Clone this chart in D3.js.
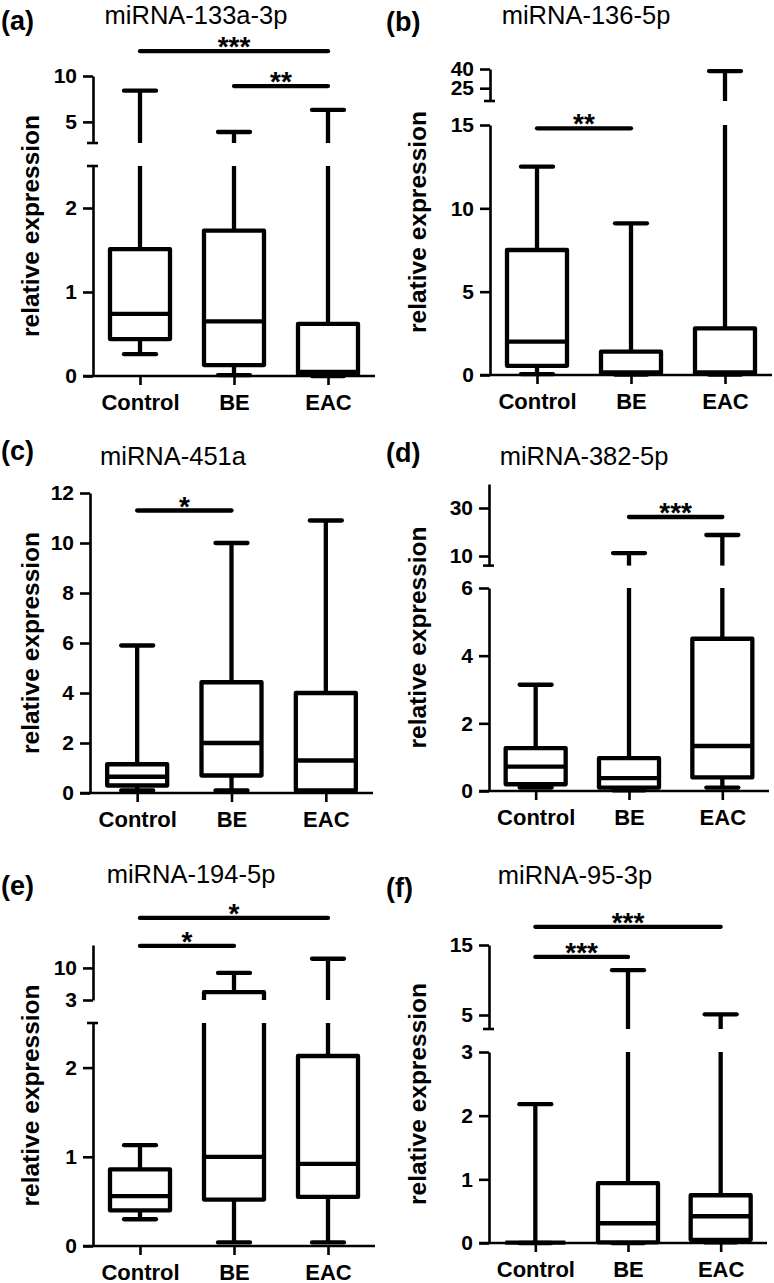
<!DOCTYPE html>
<html><head><meta charset="utf-8">
<script src="https://cdn.jsdelivr.net/npm/d3@7"></script>
<style>
html,body{margin:0;padding:0;background:#fff;}
svg{display:block;}
text{font-family:"Liberation Sans", Arial, Helvetica, sans-serif;fill:#000;}
</style></head><body>
<svg id="chart" width="774" height="1283"></svg>
<script>
// ---------------- DATA ----------------
const categories = ["Control", "BE", "EAC"];
const panelLabels = ["(a)", "(b)", "(c)", "(d)", "(e)", "(f)"];
const titles = ["miRNA-133a-3p", "miRNA-136-5p", "miRNA-451a", "miRNA-382-5p", "miRNA-194-5p", "miRNA-95-3p"];
const yAxisTitle = "relative expression";

// box statistics per category: [min, Q1, median, Q3, max]
const box133a = [[0.26, 0.44, 0.74, 1.51, 8.4], [0.01, 0.13, 0.65, 1.73, 3.9], [0.0, 0.02, 0.05, 0.62, 6.3]];
const box136  = [[0.05, 0.55, 2.0, 7.5, 12.5], [0.02, 0.1, 0.15, 1.4, 9.1], [0.02, 0.1, 0.15, 2.8, 38.4]];
const box451a = [[0.1, 0.3, 0.65, 1.15, 5.9], [0.1, 0.7, 2.0, 4.43, 10.0], [0.05, 0.1, 1.3, 4.0, 10.9]];
const box382  = [[0.1, 0.2, 0.72, 1.27, 3.14], [0.02, 0.1, 0.38, 0.97, 11.2], [0.1, 0.4, 1.33, 4.5, 18.75]];
const box194  = [[0.3, 0.4, 0.56, 0.86, 1.13], [0.04, 0.52, 1.0, 4.7, 8.9], [0.04, 0.55, 0.92, 2.13, 12.0]];
const box95   = [[0.0, 0.005, 0.005, 0.005, 2.18], [0.0, 0.01, 0.31, 0.94, 11.4], [0.01, 0.05, 0.42, 0.75, 5.1]];

// broken-axis segment domains (lower / upper)
const lower133a = [0, 2.5],  upper133a = [2.7, 10];
const lower136  = [0, 15],   upper136  = [15, 40];
const lower451a = [0, 12],   upper451a = null;
const lower382  = [0, 6],    upper382  = [6, 40];
const lower194  = [0, 2.5],  upper194  = [3, 15];
const lower95   = [0, 3],    upper95   = [3, 15];

// tick labels
const ticksLow133a = [0, 1, 2],               ticksUp133a = [5, 10];
const ticksLow136  = [0, 5, 10, 15],          ticksUp136  = [25, 40];
const ticksLow451a = [0, 2, 4, 6, 8, 10, 12], ticksUp451a = [];
const ticksLow382  = [0, 2, 4, 6],            ticksUp382  = [10, 30];
const ticksLow194  = [0, 1, 2],               ticksUp194  = [3, 10];
const ticksLow95   = [0, 1, 2, 3],            ticksUp95   = [5, 15];

// significance brackets: [from, to, label, level (axis units)]
const sig133a = [["Control", "EAC", "***", 12.7], ["BE", "EAC", "**", 8.9]];
const sig136  = [["Control", "BE", "**", 14.8]];
const sig451a = [["Control", "BE", "*", 11.3]];
const sig382  = [["BE", "EAC", "***", 26.25]];
const sig194  = [["Control", "EAC", "*", 20.9], ["Control", "BE", "*", 14.8]];
const sig95   = [["Control", "EAC", "***", 17.6], ["Control", "BE", "***", 13.3]];

// ---------------- LAYOUT ----------------
const layout = [
  {ax: 93,  xEnd: 375, low: [376, 166],   up: [143, 76],    lab: [1, 30],    title: [196, 24],  ylab: 39},
  {ax: 490, xEnd: 772, low: [375, 125],   up: [101, 69],    lab: [386, 31],  title: [586, 24],  ylab: 426},
  {ax: 90,  xEnd: 373, low: [793, 493],   up: null,         lab: [1, 460],   title: [173, 465], ylab: 39},
  {ax: 489, xEnd: 769, low: [791, 588],   up: [565.6, 484], lab: [386, 462], title: [584, 465], ylab: 426},
  {ax: 93,  xEnd: 375, low: [1246, 1023], up: [1000, 945],  lab: [1, 895],   title: [191, 883], ylab: 39},
  {ax: 489, xEnd: 767, low: [1243, 1052], up: [1029, 945],  lab: [386, 897], title: [575, 884], ylab: 426}
];

const panels = [
  {box: box133a, lowD: lower133a, upD: upper133a, tl: ticksLow133a, tu: ticksUp133a, sig: sig133a},
  {box: box136,  lowD: lower136,  upD: upper136,  tl: ticksLow136,  tu: ticksUp136,  sig: sig136},
  {box: box451a, lowD: lower451a, upD: upper451a, tl: ticksLow451a, tu: ticksUp451a, sig: sig451a},
  {box: box382,  lowD: lower382,  upD: upper382,  tl: ticksLow382,  tu: ticksUp382,  sig: sig382},
  {box: box194,  lowD: lower194,  upD: upper194,  tl: ticksLow194,  tu: ticksUp194,  sig: sig194},
  {box: box95,   lowD: lower95,   upD: upper95,   tl: ticksLow95,   tu: ticksUp95,   sig: sig95}
];

const svg = d3.select("#chart");
const BOXW = 60, CAPW = 32, LW = 4.3, AXW = 2.6;

panels.forEach((p, i) => {
  const L = layout[i];
  const g = svg.append("g");
  const x = d3.scalePoint().domain(categories).range([L.ax, L.xEnd]).padding(0.5);
  const yLow = d3.scaleLinear().domain(p.lowD).range(L.low);
  const yUp = p.upD ? d3.scaleLinear().domain(p.upD).range(L.up) : null;
  const yy = v => (!yUp || v <= p.lowD[1]) ? yLow(v) : yUp(v);

  // boxes & whiskers
  p.box.forEach((s, k) => {
    const cx = x(categories[k]);
    const [mn, q1, md, q3, mx] = s;
    const line = (x1, y1, x2, y2, cap) => g.append("line")
      .attr("x1", x1).attr("y1", y1).attr("x2", x2).attr("y2", y2)
      .attr("stroke", "#000").attr("stroke-width", LW).attr("stroke-linecap", cap || "butt");
    line(cx, yy(q3), cx, yy(mx));
    line(cx, yy(q1), cx, yy(mn));
    line(cx - CAPW / 2, yy(mx), cx + CAPW / 2, yy(mx), "round");
    line(cx - CAPW / 2, yy(mn), cx + CAPW / 2, yy(mn), "round");
    g.append("rect").attr("x", cx - BOXW / 2).attr("y", yy(q3))
      .attr("width", BOXW).attr("height", Math.max(0, yy(q1) - yy(q3)))
      .attr("fill", "#fff").attr("stroke", "#000").attr("stroke-width", LW)
      .attr("stroke-linejoin", "round");
    line(cx - BOXW / 2, yy(md), cx + BOXW / 2, yy(md));
  });

  // axis gap
  if (yUp) {
    g.append("rect").attr("x", L.ax + 2).attr("y", L.up[0])
      .attr("width", L.xEnd - L.ax).attr("height", L.low[1] - L.up[0])
      .attr("fill", "#fff");
  }

  // y axis segments
  const styleAxis = (ag) => {
    ag.attr("font-size", null).attr("font-family", null);
    ag.selectAll("path.domain").attr("stroke", "#000").attr("stroke-width", AXW);
    ag.selectAll(".tick line").attr("stroke", "#000").attr("stroke-width", AXW);
    ag.selectAll(".tick text").attr("font-size", 21).attr("font-weight", "bold")
      .attr("fill", "#000");
  };
  const ga = g.append("g").attr("transform", `translate(${L.ax},0)`)
    .call(d3.axisLeft(yLow).tickValues(p.tl).tickSize(10).tickPadding(6).tickSizeOuter(0).tickFormat(d3.format("d")));
  styleAxis(ga);
  if (yUp) {
    const gu = g.append("g").attr("transform", `translate(${L.ax},0)`)
      .call(d3.axisLeft(yUp).tickValues(p.tu).tickSize(10).tickPadding(6).tickSizeOuter(0).tickFormat(d3.format("d")));
    styleAxis(gu);
    // break end marks where no tick label sits
    const marks = [];
    if (!p.tl.includes(p.lowD[1])) marks.push(yLow(p.lowD[1]));
    if (!p.tu.includes(p.upD[0])) marks.push(yUp(p.upD[0]));
    marks.forEach(my => g.append("line").attr("x1", L.ax - 6).attr("x2", L.ax + 5)
      .attr("y1", my).attr("y2", my).attr("stroke", "#000").attr("stroke-width", AXW));
  }

  // x axis
  const x0 = L.low[0];
  const gx = g.append("g").attr("transform", `translate(0,${x0})`)
    .call(d3.axisBottom(x).tickSize(9).tickSizeOuter(0));
  gx.attr("font-size", null).attr("font-family", null);
  gx.select("path.domain").remove();
  gx.selectAll(".tick line").attr("stroke", "#000").attr("stroke-width", AXW);
  gx.selectAll(".tick text").attr("y", 34).attr("dy", null)
    .attr("font-size", 22).attr("font-weight", "bold").attr("fill", "#000");
  g.append("line").attr("x1", L.ax - 10).attr("x2", L.xEnd).attr("y1", x0).attr("y2", x0)
    .attr("stroke", "#000").attr("stroke-width", AXW);

  // significance bars
  p.sig.forEach(([a, b, lab, lv]) => {
    const yv = (yUp && lv >= p.upD[0]) ? yUp(lv) : yLow(lv);
    g.append("line").attr("x1", x(a)).attr("x2", x(b)).attr("y1", yv).attr("y2", yv)
      .attr("stroke", "#000").attr("stroke-width", LW).attr("stroke-linecap", "round");
    g.append("text").attr("x", (x(a) + x(b)) / 2).attr("y", yv + 5)
      .attr("text-anchor", "middle").attr("font-size", 28).attr("font-weight", "bold")
      .text(lab);
  });

  // y title
  const cy = ((L.up ? L.up[1] : L.low[1]) + L.low[0]) / 2;
  g.append("text").attr("transform", `translate(${L.ylab},${cy}) rotate(-90)`)
    .attr("text-anchor", "middle").attr("font-size", 24.5).attr("font-weight", "bold")
    .text(yAxisTitle);

  // panel label and title
  g.append("text").attr("x", L.lab[0]).attr("y", L.lab[1])
    .attr("font-size", 27).attr("font-weight", "bold").text(panelLabels[i]);
  g.append("text").attr("x", L.title[0]).attr("y", L.title[1])
    .attr("text-anchor", "middle").attr("font-size", 25.5).text(titles[i]);
});
</script>
</body></html>
